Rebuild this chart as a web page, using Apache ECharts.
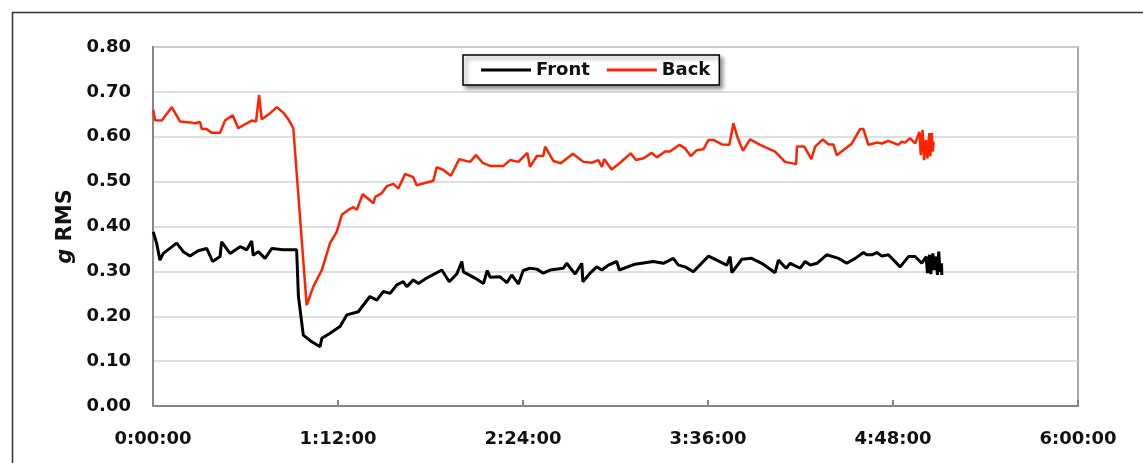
<!DOCTYPE html>
<html>
<head>
<meta charset="utf-8">
<script src="https://cdn.jsdelivr.net/npm/echarts@6/dist/echarts.min.js"></script>
<style>
html,body{margin:0;padding:0;background:#fff;}
#c{width:1143px;height:463px;}
</style>
</head>
<body>
<div id="c"></div>
<script>
// Time in minutes since start
const frontTime = [0.1,1.4,2.7,4.0,9.2,11.8,14.4,17.6,20.9,23.2,26.1,26.7,30.0,33.9,36.5,38.4,39.0,41.0,43.6,46.2,50.7,55.9,56.6,58.5,61.8,65.0,65.7,68.9,72.8,75.4,79.9,84.4,87.1,89.6,92.3,94.9,97.4,98.8,101.3,103.3,106.5,112.4,115.3,118.2,120.2,120.8,125.3,128.6,130.1,131.2,135.1,137.7,139.6,142.2,144.1,146.7,149.4,151.9,154.5,159.7,161.0,164.3,166.9,167.3,170.1,172.7,174.7,177.2,180.5,181.5,187.6,194.7,198.6,202.5,204.5,207.1,210.3,216.2,219.4,223.3,224.6,225.3,229.2,233.0,236.9,242.1,243.4,246.4,248.0,251.9,253.8,255.8,258.4,262.2,266.8,270.0,273.3,276.5,277.8,279.8,281.7,283.7,286.2,290.8,294.0,296.6,299.2,299.8,300.9,301.4,302.2,302.7,303.5,304.0,304.8,305.3,305.8,306.3,306.9,307.0];
const frontValue = [0.388,0.363,0.325,0.34,0.363,0.344,0.334,0.346,0.351,0.322,0.333,0.366,0.34,0.355,0.348,0.368,0.336,0.344,0.329,0.351,0.348,0.348,0.244,0.158,0.143,0.132,0.151,0.162,0.177,0.203,0.21,0.244,0.236,0.255,0.251,0.27,0.277,0.266,0.281,0.273,0.285,0.303,0.277,0.294,0.322,0.299,0.285,0.273,0.302,0.287,0.288,0.275,0.292,0.272,0.302,0.307,0.305,0.296,0.303,0.307,0.318,0.294,0.318,0.277,0.296,0.31,0.303,0.314,0.322,0.303,0.316,0.322,0.318,0.329,0.314,0.31,0.299,0.334,0.325,0.314,0.333,0.297,0.327,0.329,0.318,0.297,0.325,0.307,0.318,0.307,0.322,0.314,0.318,0.337,0.329,0.318,0.329,0.342,0.337,0.337,0.342,0.334,0.337,0.31,0.333,0.333,0.318,0.318,0.333,0.296,0.337,0.294,0.34,0.303,0.333,0.292,0.344,0.299,0.318,0.292];

const backTime = [0.1,0.8,3.4,7.3,10.5,14.4,16.3,18.3,19.0,20.9,22.8,26.1,28.0,31.0,33.2,36.5,38.4,40.1,41.3,42.3,45.5,48.2,51.0,52.9,54.6,59.8,62.4,65.7,68.9,71.5,73.5,76.0,78.0,79.3,81.6,85.8,86.5,89.0,91.0,93.5,95.5,98.1,101.3,102.6,109.1,110.4,113.0,115.9,119.2,123.4,125.7,128.3,131.2,136.4,139.0,142.2,145.7,146.7,149.4,151.9,152.6,155.8,158.7,163.4,167.5,170.8,173.3,174.7,175.6,178.5,181.8,185.9,188.0,190.9,194.1,196.1,199.3,201.2,204.9,207.1,209.3,211.6,214.2,216.2,218.1,221.4,224.3,225.9,227.4,229.6,232.4,236.3,242.1,246.0,250.3,250.6,253.5,256.2,257.7,260.7,262.9,264.8,266.1,272.0,275.2,276.5,278.4,281.7,283.7,286.2,290.1,291.4,292.7,294.6,296.6,297.3,298.3,298.8,299.5,300.1,300.8,301.4,302.1,302.5,303.1,303.5,303.8];
const backValue = [0.66,0.637,0.636,0.666,0.634,0.632,0.63,0.633,0.617,0.617,0.609,0.609,0.636,0.648,0.619,0.63,0.636,0.634,0.693,0.639,0.652,0.666,0.652,0.637,0.619,0.225,0.266,0.303,0.363,0.388,0.426,0.437,0.443,0.437,0.472,0.452,0.466,0.474,0.49,0.495,0.485,0.517,0.51,0.492,0.502,0.532,0.526,0.513,0.55,0.544,0.559,0.542,0.535,0.535,0.548,0.544,0.564,0.533,0.557,0.557,0.578,0.546,0.541,0.562,0.544,0.542,0.548,0.533,0.55,0.527,0.542,0.563,0.548,0.552,0.564,0.554,0.567,0.567,0.582,0.574,0.557,0.570,0.572,0.593,0.593,0.583,0.582,0.63,0.6,0.569,0.594,0.582,0.567,0.544,0.539,0.578,0.578,0.55,0.578,0.594,0.583,0.583,0.559,0.585,0.617,0.617,0.582,0.587,0.585,0.591,0.582,0.589,0.587,0.597,0.585,0.589,0.611,0.559,0.615,0.548,0.593,0.552,0.608,0.556,0.608,0.567,0.589];

const seriesNames = ['Front','Back'];
const xTickMinutes = 72;

const FONT = '"DejaVu Sans", sans-serif';
function fmtTime(v){
  const h = Math.floor(v/60);
  const m = Math.round(v - h*60);
  return h + ':' + (m<10?'0':'') + m + ':00';
}
const zip = (t, v) => t.map((x,i)=>[x, v[i]]);

const chart = echarts.init(document.getElementById('c'), null, {renderer:'canvas'});
chart.setOption({
  animation:false,
  backgroundColor:'#fff',
  graphic:[{
    type:'rect', left:10, top:10, silent:true,
    shape:{x:0,y:0,width:1200,height:500},
    style:{fill:null, stroke:'#333', lineWidth:1.5}
  }],
  grid:{left:153,right:65,top:47,bottom:57,show:true,borderColor:'#8c8c8c',borderWidth:1.5,backgroundColor:'transparent'},
  legend:{
    left:463, top:55,
    data:[{name:'Front', icon:'rect'},{name:'Back', icon:'rect'}],
    itemWidth:50, itemHeight:3, itemGap:17,
    padding:[6,9,6,18],
    backgroundColor:'#fff', borderColor:'#000', borderWidth:1.5,
    shadowBlur:4, shadowColor:'rgba(0,0,0,0.45)', shadowOffsetX:3, shadowOffsetY:3,
    textStyle:{fontFamily:FONT, fontWeight:'bold', fontSize:18, color:'#111'}
  },
  xAxis:{
    type:'value', min:0, max:360, interval:xTickMinutes,
    axisLine:{show:true,lineStyle:{color:'#868686',width:2}},
    axisTick:{show:true,inside:true,length:6,lineStyle:{color:'#868686',width:2}},
    splitLine:{show:false},
    axisLabel:{margin:24, formatter:fmtTime, fontFamily:FONT, fontWeight:'bold', fontSize:18, color:'#111'}
  },
  yAxis:{
    type:'value', min:0, max:0.8, interval:0.1,
    name:'{i|g} RMS', nameLocation:'middle', nameGap:76, nameRotate:90,
    nameTextStyle:{fontFamily:FONT, fontWeight:'bold', fontSize:21, color:'#111',
      rich:{i:{fontFamily:FONT, fontWeight:'bold', fontStyle:'italic', fontSize:21, color:'#111'}}},
    axisLine:{show:true,lineStyle:{color:'#868686',width:2}},
    axisTick:{show:false},
    splitLine:{show:true,lineStyle:{color:'#d4d4d4',width:1.5}},
    axisLabel:{margin:22, formatter:v=>v.toFixed(2), fontFamily:FONT, fontWeight:'bold', fontSize:18, color:'#111'}
  },
  series:[
    {name:seriesNames[0], type:'line', data:zip(frontTime, frontValue), showSymbol:false, symbol:'none',
      lineStyle:{color:'#000', width:3}, itemStyle:{color:'#000'}, z:3},
    {name:seriesNames[1], type:'line', data:zip(backTime, backValue), showSymbol:false, symbol:'none',
      lineStyle:{color:'#ff2200', width:2.5}, itemStyle:{color:'#ff2200'}, z:2}
  ]
});
</script>
</body>
</html>
